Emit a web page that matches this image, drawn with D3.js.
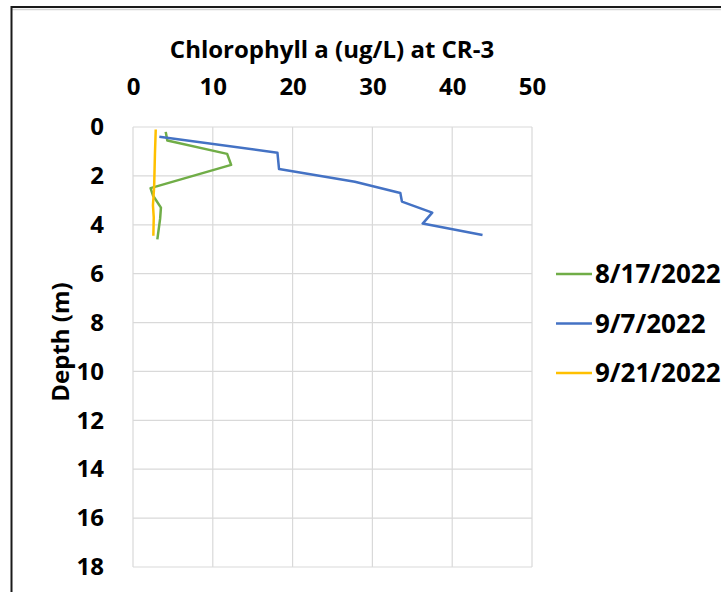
<!DOCTYPE html>
<html><head><meta charset="utf-8">
<script src="https://cdn.jsdelivr.net/npm/d3@7"></script>
<style>html,body{margin:0;padding:0;background:#fff;}svg{display:block;}</style>
</head><body>
<svg id="c" width="721" height="592"></svg>
<script>
const title = "Chlorophyll a (ug/L) at CR-3";
const yTitle = "Depth (m)";
const seriesNames = ["8/17/2022", "9/7/2022", "9/21/2022"];
const seriesColors = ["#70AD47", "#4472C4", "#FFC000"];
const xTicks = [0, 10, 20, 30, 40, 50];
const yTicks = [0, 2, 4, 6, 8, 10, 12, 14, 16, 18];

const chl_0817 = [4.1, 4.3, 11.8, 12.3, 2.2, 2.5, 3.5, 3.4, 3.05];
const depth_0817 = [0.2, 0.55, 1.1, 1.55, 2.5, 2.8, 3.3, 3.75, 4.6];
const chl_0907 = [3.3, 18.1, 18.3, 27.8, 33.5, 33.7, 37.5, 36.3, 43.8];
const depth_0907 = [0.4, 1.05, 1.72, 2.24, 2.7, 3.05, 3.5, 3.95, 4.42];
const chl_0921 = [2.85, 2.75, 2.65, 2.5, 2.6, 2.55];
const depth_0921 = [0.1, 1.1, 2.45, 3.2, 3.7, 4.45];

const series = [
  {name: seriesNames[0], color: seriesColors[0], pts: chl_0817.map((v,i)=>[v, depth_0817[i]])},
  {name: seriesNames[1], color: seriesColors[1], pts: chl_0907.map((v,i)=>[v, depth_0907[i]])},
  {name: seriesNames[2], color: seriesColors[2], pts: chl_0921.map((v,i)=>[v, depth_0921[i]])}
];

const svg = d3.select("#c");
const FONT = "'Open Sans', 'Noto Sans', sans-serif";
const L = 133, R = 532, T = 127, B = 567;
const x = d3.scaleLinear().domain([0, 50]).range([L, R]);
const y = d3.scaleLinear().domain([0, 18]).range([T, B]);

// outer frame
svg.append("line").attr("x1", 11).attr("x2", 740).attr("y1", 9.5).attr("y2", 9.5).attr("stroke", "#d4d4d4").attr("stroke-width", 1.5);
svg.append("line").attr("x1", 11).attr("x2", 740).attr("y1", 7).attr("y2", 7).attr("stroke", "#1a1a1a").attr("stroke-width", 2);
svg.append("line").attr("x1", 11.5).attr("x2", 11.5).attr("y1", 6).attr("y2", 600).attr("stroke", "#1a1a1a").attr("stroke-width", 2);

// gridlines
const g = svg.append("g");
g.selectAll(".vg").data(xTicks).join("line")
  .attr("x1", d => x(d)).attr("x2", d => x(d)).attr("y1", T).attr("y2", B)
  .attr("stroke", "#d9d9d9").attr("stroke-width", 1.2);
g.selectAll(".hg").data(yTicks).join("line")
  .attr("x1", L).attr("x2", R).attr("y1", d => y(d)).attr("y2", d => y(d))
  .attr("stroke", "#d9d9d9").attr("stroke-width", 1.2);

// axes
const xAxis = svg.append("g").attr("transform", `translate(0,${T - 32})`)
  .call(d3.axisTop(x).tickValues(xTicks).tickSize(0).tickPadding(0));
xAxis.select(".domain").remove();
xAxis.selectAll("text").attr("font-family", FONT).attr("font-weight", 700).attr("font-size", 24).attr("fill", "#000");

const yAxis = svg.append("g").attr("transform", `translate(${L - 29},0)`)
  .call(d3.axisLeft(y).tickValues(yTicks).tickSize(0).tickPadding(0));
yAxis.select(".domain").remove();
yAxis.selectAll("text").attr("font-family", FONT).attr("font-weight", 700).attr("font-size", 24).attr("fill", "#000");

// title
svg.append("text").attr("x", 332).attr("y", 58).attr("text-anchor", "middle")
  .attr("font-family", FONT).attr("font-weight", 700).attr("font-size", 24).attr("fill", "#000").text(title);

// y title
svg.append("text").attr("transform", `translate(69,342) rotate(-90)`).attr("text-anchor", "middle")
  .attr("font-family", FONT).attr("font-weight", 700).attr("font-size", 24).attr("fill", "#000").text(yTitle);

// lines
const line = d3.line().x(d => x(d[0])).y(d => y(d[1]));
svg.append("g").selectAll("path").data(series).join("path")
  .attr("d", d => line(d.pts)).attr("fill", "none")
  .attr("stroke", d => d.color).attr("stroke-width", 2.5).attr("stroke-linejoin", "round");

// legend
const lg = svg.append("g").selectAll("g").data(series).join("g")
  .attr("transform", (d, i) => `translate(556,${274 + i * 49.5})`);
lg.append("line").attr("x1", 0).attr("x2", 36).attr("y1", 0).attr("y2", 0)
  .attr("stroke", d => d.color).attr("stroke-width", 2.5);
lg.append("text").attr("x", 39).attr("y", 0).attr("dy", "0.35em")
  .attr("font-family", FONT).attr("font-weight", 700).attr("font-size", 26).attr("fill", "#000")
  .text(d => d.name);
</script>
</body></html>
